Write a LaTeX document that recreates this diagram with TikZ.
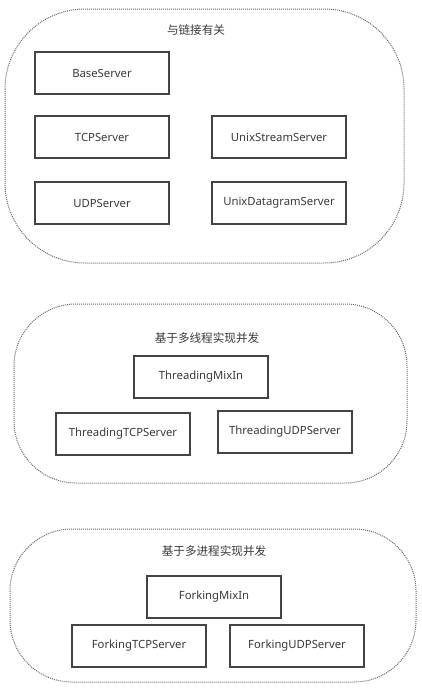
\documentclass[tikz,border=0pt]{standalone}
\usepackage{fontspec}
\setmainfont{Noto Sans}
\newfontfamily\cjk{Noto Sans CJK SC}
\definecolor{boxline}{HTML}{444444}
\definecolor{labeltext}{HTML}{3A3A3A}
\definecolor{dotline}{HTML}{6A6A6A}
\tikzset{
  classbox/.style={draw=boxline,line width=1.3pt,minimum width=134pt,minimum height=42pt,
    inner sep=0pt,text=labeltext,font=\fontsize{11.3}{13}\selectfont},
  grouptitle/.style={inner sep=1pt,text=labeltext,font=\cjk\fontsize{11.6}{13}\selectfont},
  groupline/.style={draw=dotline,line width=1pt,dash pattern=on 1pt off 1pt}
}
\begin{document}
\begin{tikzpicture}[x=1pt,y=-1pt]
\useasboundingbox (0,0) rectangle (421,691);
\fill[white] (0,0) rectangle (421,691);
% connection related
\draw[groupline,rounded corners=80pt] (5,9) rectangle (404,263);
\node[grouptitle] (linkTitle) at (196,30) {与链接有关};
\node[classbox] (baseServer) at (102,73) {BaseServer};
\node[classbox] (tcpServer) at (102,137) {TCPServer};
\node[classbox] (unixStream) at (279,137) {UnixStreamServer};
\node[classbox] (udpServer) at (102,203) {UDPServer};
\node[classbox] (unixDatagram) at (279,203) {UnixDatagramServer};
% threads
\draw[groupline,rounded corners=62pt] (14,304) rectangle (407,483);
\node[grouptitle] (threadTitle) at (207,338) {基于多线程实现并发};
\node[classbox] (threadMix) at (201,377) {ThreadingMixIn};
\node[classbox] (threadTCP) at (123,434) {ThreadingTCPServer};
\node[classbox] (threadUDP) at (285,432) {ThreadingUDPServer};
% processes
\draw[groupline,rounded corners=62pt] (10,529) rectangle (416,682);
\node[grouptitle] (forkTitle) at (214,551) {基于多进程实现并发};
\node[classbox] (forkMix) at (214,597) {ForkingMixIn};
\node[classbox] (forkTCP) at (139,646) {ForkingTCPServer};
\node[classbox] (forkUDP) at (297,646) {ForkingUDPServer};
\end{tikzpicture}
\end{document}
